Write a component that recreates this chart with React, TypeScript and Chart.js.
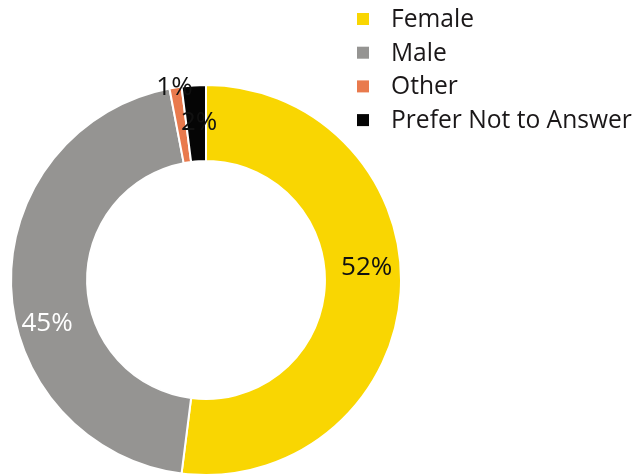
import React, { useEffect, useRef } from "react";
import { Chart, registerables } from "chart.js";

Chart.register(...registerables);

const categories = ["Female", "Male", "Other", "Prefer Not to Answer"];
const values = [52, 45, 1, 2];
const valueLabels = ["52%", "45%", "1%", "2%"];
const colors = ["#F9D602", "#959492", "#E97A4D", "#050505"];
const labelColors = ["#111111", "#FFFFFF", "#111111", "#111111"];
// nudges of the value labels away from the arc mid-point (px)
const labelNudgeX = [4, -2, -7, 3];
const labelNudgeY = [-22, 39, -37, -1];

const FONT = "'Open Sans', 'DejaVu Sans', sans-serif";

const labelPlugin = {
  id: "valueLabels",
  afterDatasetsDraw(chart: any) {
    const ctx = chart.ctx;
    const meta = chart.getDatasetMeta(0);
    ctx.save();
    ctx.font = `26px ${FONT}`;
    ctx.textAlign = "center";
    ctx.textBaseline = "middle";
    meta.data.forEach((arc: any, i: number) => {
      const { x, y, startAngle, endAngle, innerRadius, outerRadius } = arc.getProps(
        ["x", "y", "startAngle", "endAngle", "innerRadius", "outerRadius"],
        true
      );
      const mid = (startAngle + endAngle) / 2;
      const r = (innerRadius + outerRadius) / 2;
      const px = x + Math.cos(mid) * r + labelNudgeX[i];
      const py = y + Math.sin(mid) * r + labelNudgeY[i];
      ctx.fillStyle = labelColors[i];
      ctx.fillText(valueLabels[i], px, py);
    });
    ctx.restore();
  },
};

const legendPlugin = {
  id: "customLegend",
  afterDraw(chart: any) {
    const ctx = chart.ctx;
    ctx.save();
    ctx.font = `24.6px ${FONT}`;
    ctx.textAlign = "left";
    ctx.textBaseline = "alphabetic";
    categories.forEach((name, i) => {
      const base = 27 + i * 33.7;
      ctx.fillStyle = colors[i];
      ctx.fillRect(357, base - 14, 12, 12);
      ctx.fillStyle = "#1A1718";
      ctx.fillText(name, 391, base);
    });
    ctx.restore();
  },
};

export default function App() {
  const ref = useRef<HTMLCanvasElement | null>(null);
  useEffect(() => {
    if (!ref.current) return;
    const chart = new Chart(ref.current, {
      type: "doughnut",
      data: {
        labels: categories,
        datasets: [
          {
            data: values,
            backgroundColor: colors,
            borderColor: "#FFFFFF",
            borderWidth: 2,
            hoverOffset: 0,
          },
        ],
      },
      options: {
        responsive: false,
        animation: false,
        cutout: "61%",
        layout: { padding: { left: 10, top: 84, right: 238, bottom: 0 } },
        plugins: {
          legend: { display: false },
          tooltip: { enabled: false },
        },
      },
      plugins: [labelPlugin, legendPlugin],
    });
    return () => chart.destroy();
  }, []);
  return (
    <div style={{ position: "fixed", left: 0, top: 0, width: 640, height: 476, background: "#fff" }}>
      <canvas ref={ref} width={640} height={476} style={{ display: "block" }} />
    </div>
  );
}
